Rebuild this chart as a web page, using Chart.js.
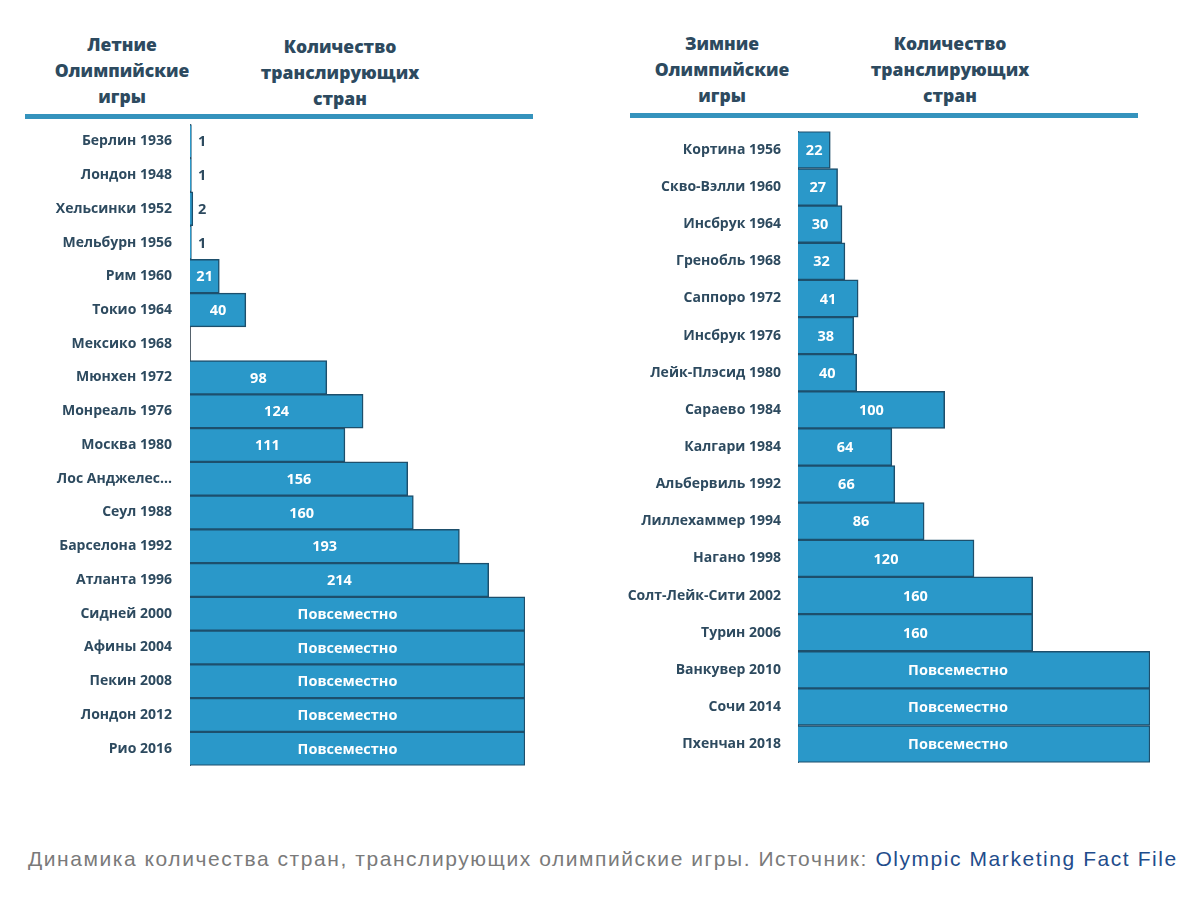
<!DOCTYPE html>
<html lang="ru">
<head>
<meta charset="utf-8">
<title>Олимпийские игры — транслирующие страны</title>
<script src="https://cdn.jsdelivr.net/npm/chart.js@4.4.0/dist/chart.umd.min.js"></script>
<style>
  body { margin: 0; background: #fff; width: 1200px; height: 917px; position: relative; overflow: hidden; }
  .hd { position: absolute; font-family: "Open Sans", sans-serif; font-weight: 800; font-size: 17.5px;
        line-height: 26px; color: #2d4a5f; text-align: center; }
  .rule { position: absolute; height: 5px; background: #3593bd; }
  .box { position: absolute; }
  .caption { position: absolute; left: 28px; top: 847px; font-family: "Liberation Sans", Arial, sans-serif;
             font-size: 21px; letter-spacing: 1.56px; color: #7a7a7a; white-space: nowrap; }
  .caption span { color: #1f4d8c; }
</style>
</head>
<body>
<div class="hd" style="left:42px; top:31px; width:160px;">Летние<br>Олимпийские<br>игры</div>
<div class="hd" style="left:250px; top:33px; width:180px;">Количество<br>транслирующих<br>стран</div>
<div class="rule" style="left:25px; top:114px; width:508px;"></div>

<div class="hd" style="left:642px; top:30px; width:160px;">Зимние<br>Олимпийские<br>игры</div>
<div class="hd" style="left:860px; top:30px; width:180px;">Количество<br>транслирующих<br>стран</div>
<div class="rule" style="left:630px; top:113px; width:508px;"></div>

<div class="box" style="left:0; top:106px; width:545px; height:678px;"><canvas id="summer"></canvas></div>
<div class="box" style="left:600px; top:114px; width:570px; height:666px;"><canvas id="winter"></canvas></div>

<div class="caption">Динамика количества стран, транслирующих олимпийские игры. Источник: <span>Olympic Marketing Fact File</span></div>

<script>
// Летние игры
const summerGames = [
  "Берлин 1936", "Лондон 1948", "Хельсинки 1952", "Мельбурн 1956", "Рим 1960", "Токио 1964",
  "Мексико 1968", "Мюнхен 1972", "Монреаль 1976", "Москва 1980", "Лос Анджелес...", "Сеул 1988",
  "Барселона 1992", "Атланта 1996", "Сидней 2000", "Афины 2004", "Пекин 2008", "Лондон 2012", "Рио 2016"
];
// "Повсеместно" рисуется как полная полоса (~240)
const summerValues = [1, 1, 2, 1, 21, 40, null, 98, 124, 111, 156, 160, 193, 214, 240, 240, 240, 240, 240];
const summerText = ["1", "1", "2", "1", "21", "40", "", "98", "124", "111", "156", "160", "193", "214",
  "Повсеместно", "Повсеместно", "Повсеместно", "Повсеместно", "Повсеместно"];

// Зимние игры
const winterGames = [
  "Кортина 1956", "Скво-Вэлли 1960", "Инсбрук 1964", "Гренобль 1968", "Саппоро 1972", "Инсбрук 1976",
  "Лейк-Плэсид 1980", "Сараево 1984", "Калгари 1984", "Альбервиль 1992", "Лиллехаммер 1994",
  "Нагано 1998", "Солт-Лейк-Сити 2002", "Турин 2006", "Ванкувер 2010", "Сочи 2014", "Пхенчан 2018"
];
const winterValues = [22, 27, 30, 32, 41, 38, 40, 100, 64, 66, 86, 120, 160, 160, 240, 240, 240];
const winterText = ["22", "27", "30", "32", "41", "38", "40", "100", "64", "66", "86", "120", "160", "160",
  "Повсеместно", "Повсеместно", "Повсеместно"];

const maxValue = 240;
const barColor = "#2a98c9";
const edgeColor = "#1d4f6c";
const textColor = "#2d4a5f";

// подписи значений на полосах
const barText = {
  id: "barText",
  afterDatasetsDraw(chart, args, opts) {
    const ctx = chart.ctx;
    const meta = chart.getDatasetMeta(0);
    ctx.save();
    ctx.font = "700 14.5px 'Open Sans', sans-serif";
    ctx.textBaseline = "middle";
    meta.data.forEach((bar, i) => {
      const t = opts.texts[i];
      if (!t) return;
      const w = bar.x - bar.base;
      const tw = ctx.measureText(t).width;
      if (w > tw + 6) {
        ctx.fillStyle = "#ffffff";
        ctx.textAlign = "center";
        ctx.fillText(t, bar.base + w / 2 - (t.length > 5 ? opts.shift : 0), bar.y + 1);
      } else {
        ctx.fillStyle = textColor;
        ctx.textAlign = "left";
        ctx.fillText(t, bar.base + 8, bar.y + 1);
      }
    });
    ctx.restore();
  }
};

function makeChart(id, labels, values, texts, axisWidth, tickPad, shift, pad) {
  return new Chart(document.getElementById(id), {
    type: "bar",
    data: {
      labels: labels,
      datasets: [{
        data: values,
        backgroundColor: barColor,
        borderColor: edgeColor,
        borderWidth: 1.5,
        barPercentage: 1,
        categoryPercentage: 1
      }]
    },
    options: {
      indexAxis: "y",
      responsive: true,
      maintainAspectRatio: false,
      animation: false,
      layout: { padding: pad },
      plugins: {
        legend: { display: false },
        tooltip: { enabled: false },
        barText: { texts: texts, shift: shift }
      },
      scales: {
        x: { display: false, min: 0, max: maxValue },
        y: {
          grid: { display: false },
          border: { display: true, color: "#55626c", width: 1 },
          ticks: {
            color: textColor,
            padding: tickPad,
            font: { family: "'Open Sans', sans-serif", size: 14, weight: "700" }
          },
          afterFit(scale) { scale.width = axisWidth; }
        }
      }
    },
    plugins: [barText]
  });
}

makeChart("summer", summerGames, summerValues, summerText, 190, 10, 10, { top: 4, bottom: 6, right: 20, left: 0 });
makeChart("winter", winterGames, winterValues, winterText, 198, 9, 16, { top: 10, bottom: 7, right: 20, left: 0 });
</script>
</body>
</html>
